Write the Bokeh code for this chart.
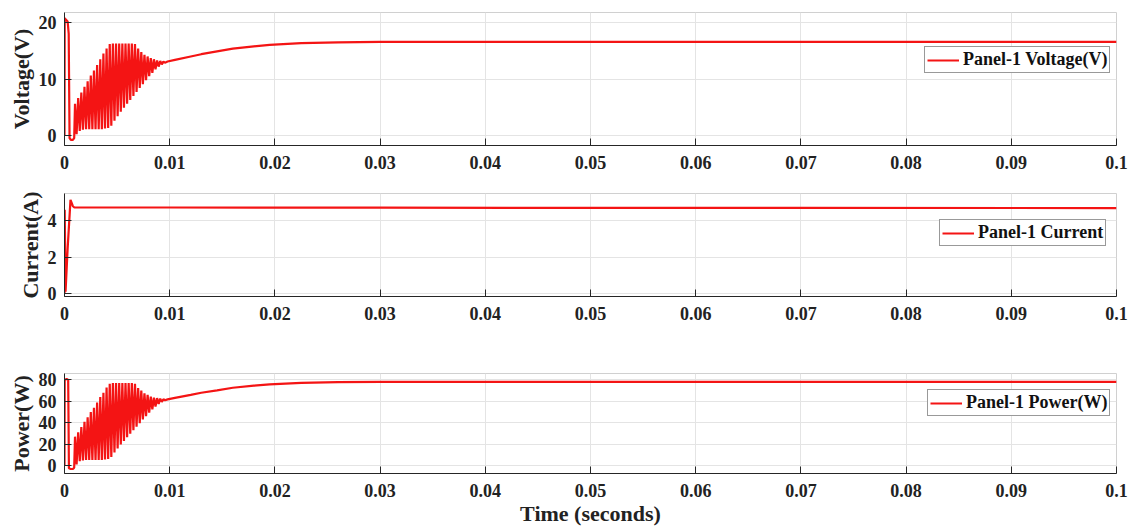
from bokeh.plotting import figure
from bokeh.layouts import column
from bokeh.models import Range1d, FixedTicker
from bokeh.embed import file_html
from bokeh.resources import INLINE

# ---------------- data ----------------
xtick_values = [0, 0.01, 0.02, 0.03, 0.04, 0.05, 0.06, 0.07, 0.08, 0.09, 0.1]
xtick_labels = ["0", "0.01", "0.02", "0.03", "0.04", "0.05", "0.06", "0.07", "0.08", "0.09", "0.1"]

# start-up segment (before switching ripple)
start_t = [0.0, 0.00002, 0.0001, 0.0003, 0.0004, 0.00048, 0.0006, 0.0008, 0.00092]
volt_start = [0.0, 20.8, 20.6, 20.2, 18.0, -0.5, -0.8, -0.8, -0.5]

# ripple: peak and trough instants
peak_t = [0.0010, 0.0013, 0.0016, 0.0019, 0.0022, 0.0025, 0.0028, 0.0031, 0.0034, 0.0037,
          0.0040, 0.0043, 0.0046, 0.0049, 0.0052, 0.0055, 0.0058, 0.0061, 0.0064, 0.0067,
          0.0070, 0.0073, 0.0076, 0.0079, 0.0082, 0.0085, 0.0088, 0.0091, 0.0094]
trough_t = [0.00115, 0.00145, 0.00175, 0.00205, 0.00235, 0.00265, 0.00295, 0.00325, 0.00355, 0.00385,
            0.00415, 0.00445, 0.00475, 0.00505, 0.00535, 0.00565, 0.00595, 0.00625, 0.00655, 0.00685,
            0.00715, 0.00745, 0.00775, 0.00805, 0.00835, 0.00865, 0.00895, 0.00925, 0.00955]

volt_peaks = [5.6, 6.6, 7.6, 8.6, 9.6, 10.6, 11.5, 12.5, 13.5, 14.5,
              15.4, 16.2, 16.3, 16.3, 16.3, 16.3, 16.3, 16.3, 16.3, 16.2,
              15.4, 14.8, 14.3, 14.0, 13.7, 13.5, 13.3, 13.2, 13.1]
volt_troughs = [0.2, 0.8, 1.0, 1.1, 1.1, 1.1, 1.1, 1.1, 1.1, 1.2,
                1.3, 1.7, 2.6, 3.4, 4.2, 4.9, 5.6, 6.3, 7.0, 7.7,
                8.4, 9.1, 9.8, 10.5, 11.1, 11.7, 12.2, 12.6, 12.9]

settle_t = [0.0098, 0.0105, 0.012, 0.013, 0.0145, 0.016, 0.018, 0.0195, 0.0225, 0.026, 0.03,
            0.04, 0.05, 0.06, 0.07, 0.08, 0.09, 0.1]
volt_settle = [13.1, 13.4, 14.0, 14.4, 14.9, 15.4, 15.8, 16.05, 16.35, 16.5, 16.6,
               16.6, 16.6, 16.6, 16.6, 16.6, 16.6, 16.6]

current_t = [0.0, 0.00002, 0.0001, 0.0003, 0.00057, 0.0008, 0.00094, 0.002, 0.01, 0.03, 0.05, 0.07, 0.1]
current = [0.0, 4.6, 0.1, 2.5, 5.15, 4.8, 4.73, 4.73, 4.73, 4.72, 4.71, 4.71, 4.70]

power_start_t = [0.0, 0.00002, 0.0002, 0.00035, 0.00042, 0.0006, 0.0008, 0.00092]
power_start = [0.0, 80.0, 81.0, 80.0, -2.5, -3.2, -3.2, -2.0]
power_peaks = [27, 31, 36, 41, 45, 50, 54, 59, 64, 68,
               73, 76.5, 77, 77, 77, 77, 77, 77, 77, 76.5,
               72.5, 70, 67.5, 66, 64.5, 63.5, 63, 62.5, 62]
power_troughs = [1, 4, 4.7, 5.2, 5.2, 5.2, 5.2, 5.2, 5.2, 5.7,
                 6.1, 8, 12.3, 16, 19.8, 23, 26.4, 29.7, 33, 36.3,
                 39.6, 43, 46.2, 49.5, 52.4, 55.2, 57.6, 59.5, 61]
power_settle = [61.8, 63.2, 66.0, 68.0, 70.3, 72.7, 74.6, 75.8, 77.2, 77.9, 78.2,
                78.2, 78.2, 78.2, 78.2, 78.2, 78.2, 78.2]

# ---------------- build series ----------------
def build(st, sv, pv, tv, et, ev):
    xs, ys = list(st), list(sv)
    for a, b, c, d in zip(peak_t, pv, trough_t, tv):
        xs += [a, c]
        ys += [b, d]
    xs += et
    ys += ev
    return xs, ys

vx, vy = build(start_t, volt_start, volt_peaks, volt_troughs, settle_t, volt_settle)
px_, py_ = build(power_start_t, power_start, power_peaks, power_troughs, settle_t, power_settle)

RED = "#f41414"
FONT = "Liberation Serif"
AXC = "#262626"


def make(height, yr, yticks, ylabel, leg, leg_loc, bl, br, bt, bb, xs, ys, xlabel=None):
    p = figure(width=1137, height=height, x_range=Range1d(0, 0.1), y_range=Range1d(*yr),
               output_backend="svg", toolbar_location=None,
               min_border_left=bl, min_border_right=br, min_border_top=bt, min_border_bottom=bb)
    p.line(xs, ys, color=RED, line_width=2.2, legend_label=leg)
    p.background_fill_color = "white"
    p.border_fill_color = "white"
    p.outline_line_color = "#d0d0d0"
    p.xaxis.ticker = FixedTicker(ticks=xtick_values)
    p.xaxis.major_label_overrides = {v: l for v, l in zip(xtick_values, xtick_labels)}
    p.yaxis.ticker = FixedTicker(ticks=yticks)
    for ax in (p.xaxis[0], p.yaxis[0]):
        ax.axis_line_color = AXC
        ax.major_tick_line_color = AXC
        ax.major_tick_in = 7
        ax.major_tick_out = 0
        ax.minor_tick_line_color = None
        ax.major_label_text_font = FONT
        ax.major_label_text_font_style = "bold"
        ax.major_label_text_font_size = "18px"
        ax.major_label_text_color = "#222222"
        ax.axis_label_text_font = FONT
        ax.axis_label_text_font_style = "bold"
        ax.axis_label_text_font_size = "22px"
        ax.axis_label_text_color = "#222222"
        ax.axis_label_standoff = 2
    p.xaxis.major_label_standoff = 10
    p.yaxis.major_label_standoff = 8
    p.yaxis.axis_label = ylabel
    if xlabel:
        p.xaxis.axis_label = xlabel
        p.xaxis.axis_label_standoff = 1
    p.xgrid.grid_line_color = "#e4e4e4"
    p.ygrid.grid_line_color = "#e4e4e4"
    p.xgrid.ticker = FixedTicker(ticks=xtick_values)
    p.ygrid.ticker = FixedTicker(ticks=yticks)
    lg = p.legend[0]
    lg.location = leg_loc
    lg.margin = 0
    lg.padding = 2
    lg.spacing = 0
    lg.label_standoff = 4
    lg.glyph_width = 32
    lg.glyph_height = 18
    lg.label_height = 18
    lg.label_text_font = FONT
    lg.label_text_font_style = "bold"
    lg.label_text_font_size = "18px"
    lg.label_text_color = "#111111"
    lg.border_line_color = "#333333"
    lg.border_line_width = 1
    lg.background_fill_color = "white"
    lg.background_fill_alpha = 1.0
    return p


p1 = make(180, (-1.8, 21.8), [0, 10, 20], "Voltage(V)", "Panel-1 Voltage(V)", (860, 72),
          62, 17, 12, 35, vx, vy)
p2 = make(150, (-0.16, 5.5), [0, 2, 4], "Current(A)", "Panel-1 Current", (875, 50),
          64, 15, 13, 34, current_t, current)
p3 = make(198, (-7.4, 86), [0, 20, 40, 60, 80], "Power(W)", "Panel-1 Power(W)", (863, 57),
          61, 21, 43, 55, px_, py_, xlabel="Time (seconds)")

layout = column(p1, p2, p3, spacing=0)
open("out.html", "w").write(file_html(layout, INLINE))
